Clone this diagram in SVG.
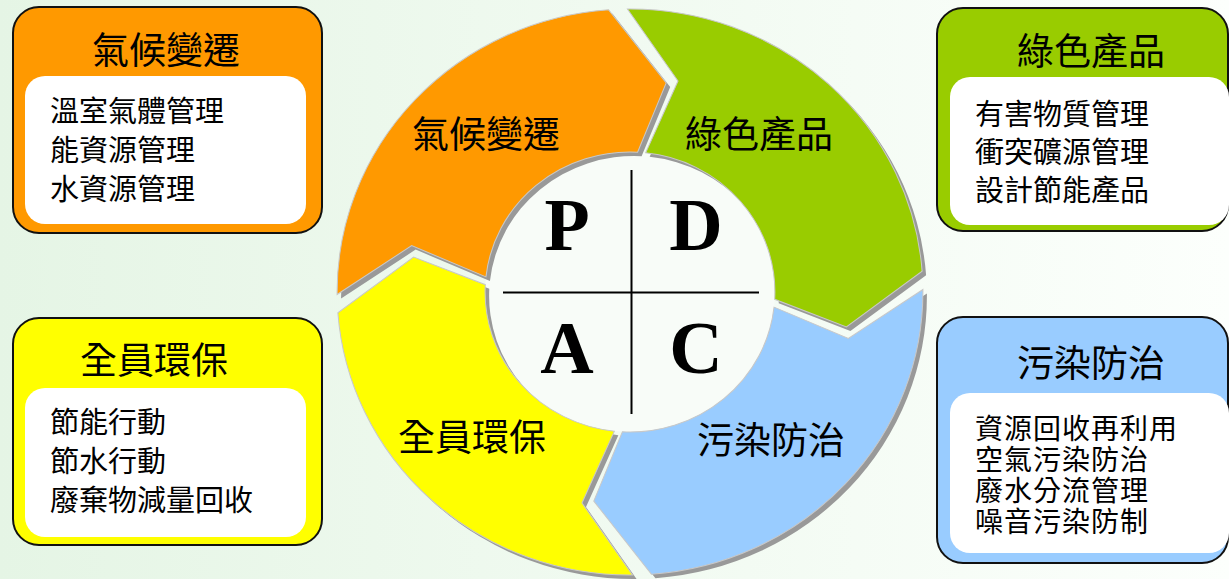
<svg xmlns="http://www.w3.org/2000/svg" xmlns:xlink="http://www.w3.org/1999/xlink" width="1229" height="579" viewBox="0 0 1229 579">
<style>
.cjk{font-family:"Noto Sans CJK TC","Noto Sans CJK SC",sans-serif;fill:#000}
.title{font-size:37px;text-anchor:middle}
.item{font-size:29px}
.item2{font-size:28px;letter-spacing:1px}
.ring{font-size:37px;text-anchor:middle}
.pdca{font-family:"Liberation Serif",serif;font-weight:bold;font-size:74px;text-anchor:middle;fill:#000}
.box{stroke:#111;stroke-width:2}
.inner{fill:#fff}
.shadow{fill:#999}
.seg{stroke:#c8c8c8;stroke-width:1}
</style>
<defs>
<linearGradient id="bg" x1="0" y1="0" x2="1" y2="0">
<stop offset="0" stop-color="#e5f5e5"/>
<stop offset="1" stop-color="#fcfffc"/>
</linearGradient>
<path id="seg" d="M -2.47,-282.99 A 283 283 0 0 1 282.24,-20.73 L 209.09,34.99 L 139.81,7.33 A 140 140 0 0 0 15.12,-139.18 L 46.38,-210.96 Z"/>
</defs>
<rect x="0" y="0" width="1229" height="579" fill="url(#bg)"/>

<g id="pdca-center">
<ellipse cx="630" cy="292" rx="145" ry="140" fill="#f8fcf8"/>
</g>

<g id="ring-shadows" transform="translate(634,296) scale(1.035,1)">
<use xlink:href="#seg" class="shadow" transform="rotate(270)"/>
<use xlink:href="#seg" class="shadow"/>
<use xlink:href="#seg" class="shadow" transform="rotate(90)"/>
<use xlink:href="#seg" class="shadow" transform="rotate(180)"/>
</g>
<g transform="translate(630,292) scale(1.035,1)">
<g id="seg-climate"><use xlink:href="#seg" class="seg" fill="#ff9900" transform="rotate(270)"/></g>
<g id="seg-green"><use xlink:href="#seg" class="seg" fill="#99cc00"/></g>
<g id="seg-pollution"><use xlink:href="#seg" class="seg" fill="#99ccff" transform="rotate(90)"/></g>
<g id="seg-all"><use xlink:href="#seg" class="seg" fill="#ffff00" transform="rotate(180)"/></g>
</g>
<g id="ring-labels">
<text class="cjk ring" x="486" y="148">氣候變遷</text>
<text class="cjk ring" x="759" y="148">綠色產品</text>
<text class="cjk ring" x="472" y="451">全員環保</text>
<text class="cjk ring" x="771" y="454">污染防治</text>
</g>

<g id="pdca-cross" stroke="#000" stroke-width="2">
<line x1="631.5" y1="170" x2="631.5" y2="414"/>
<line x1="503" y1="292.5" x2="759" y2="292.5"/>
</g>
<g id="pdca-letters">
<text class="pdca" x="567" y="250">P</text>
<text class="pdca" x="696" y="250">D</text>
<text class="pdca" x="567" y="373">A</text>
<text class="pdca" x="696" y="373">C</text>
</g>

<g id="box-climate">
<rect class="box" x="13" y="7" width="309" height="226" rx="26" fill="#ff9900"/>
<rect class="inner" x="25" y="76" width="281" height="148" rx="20"/>
<text class="cjk title" x="166" y="64">氣候變遷</text>
<text class="cjk item" x="50" y="122">溫室氣體管理</text>
<text class="cjk item" x="50" y="161">能資源管理</text>
<text class="cjk item" x="50" y="200">水資源管理</text>
</g>

<g id="box-green">
<rect class="box" x="937" y="8" width="291" height="223" rx="26" fill="#99cc00"/>
<rect class="inner" x="950" y="77" width="279" height="148" rx="20"/>
<text class="cjk title" x="1091" y="65">綠色產品</text>
<text class="cjk item" x="975" y="125">有害物質管理</text>
<text class="cjk item" x="975" y="163">衝突礦源管理</text>
<text class="cjk item" x="975" y="201">設計節能產品</text>
</g>

<g id="box-all">
<rect class="box" x="13" y="318" width="309" height="227" rx="26" fill="#ffff00"/>
<rect class="inner" x="25" y="388" width="281" height="149" rx="20"/>
<text class="cjk title" x="154" y="374">全員環保</text>
<text class="cjk item" x="50" y="433">節能行動</text>
<text class="cjk item" x="50" y="472">節水行動</text>
<text class="cjk item" x="50" y="511">廢棄物減量回收</text>
</g>

<g id="box-pollution">
<rect class="box" x="937" y="317" width="291" height="246" rx="26" fill="#99ccff"/>
<rect class="inner" x="950" y="393" width="279" height="160" rx="20"/>
<text class="cjk title" x="1091" y="377">污染防治</text>
<text class="cjk item2" x="975" y="439">資源回收再利用</text>
<text class="cjk item2" x="975" y="470">空氣污染防治</text>
<text class="cjk item2" x="975" y="501">廢水分流管理</text>
<text class="cjk item2" x="975" y="532">噪音污染防制</text>
</g>
</svg>
